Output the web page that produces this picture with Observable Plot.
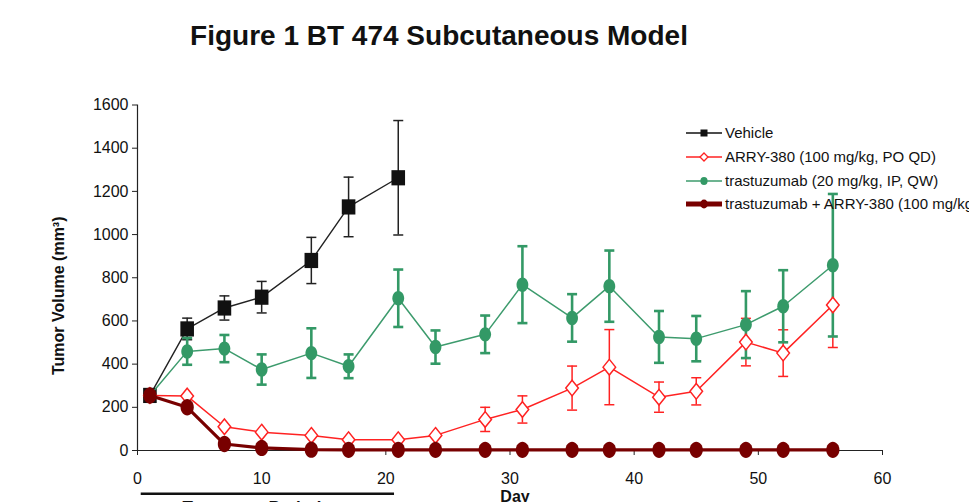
<!DOCTYPE html>
<html>
<head>
<meta charset="utf-8">
<script src="https://cdn.jsdelivr.net/npm/d3@7"></script>
<script src="https://cdn.jsdelivr.net/npm/@observablehq/plot@0.6"></script>
<style>
  html, body { margin: 0; padding: 0; background: #fff; }
  #wrap { position: relative; width: 969px; height: 502px; overflow: hidden; font-family: "Liberation Sans", Arial, sans-serif; color: #111; }
  #title { position: absolute; left: 0; top: 22px; width: 878px; text-align: center; font-weight: bold; font-size: 28px; line-height: 28px; white-space: nowrap; }
  #chart { position: absolute; left: 0; top: 80px; }
  .leg { position: absolute; left: 686px; height: 16px; white-space: nowrap; font-size: 15px; line-height: 16px; }
  .leg svg { position: absolute; left: 0; top: 0; }
  .leg span { position: absolute; left: 39px; top: 0; }
</style>
</head>
<body>
<div id="wrap">
  <div id="title">Figure 1 BT 474 Subcutaneous Model</div>
  <div id="chart"></div>
  <div id="legend"></div>
</div>
<script>
// ---- data ----
const days = [1, 4, 7, 10, 14, 17, 21, 24, 28, 31, 35, 38, 42, 45, 49, 52, 56];
const vehicleDays = [1, 4, 7, 10, 14, 17, 21];
const vehicle = [255, 563, 660, 710, 880, 1128, 1263];
const vehicleErr = [15, 50, 56, 73, 107, 138, 265];
const arry = [255, 252, 110, 85, 70, 50, 50, 70, 144, 190, 289, 386, 247, 274, 502, 451, 674];
const arryErr = [0, 0, 0, 0, 0, 0, 0, 0, 56, 63, 102, 174, 70, 63, 110, 108, 197];
const trast = [255, 459, 472, 375, 451, 390, 705, 479, 538, 768, 614, 761, 526, 518, 583, 668, 858];
const trastErr = [15, 62, 63, 70, 115, 55, 133, 77, 87, 178, 110, 165, 120, 105, 155, 167, 330];
const combo = [255, 200, 30, 12, 4, 3, 3, 3, 3, 3, 3, 3, 3, 3, 3, 3, 3];
const yTicks = [0, 200, 400, 600, 800, 1000, 1200, 1400, 1600];
const xTicks = [0, 10, 20, 30, 40, 50, 60];
const treatmentPeriod = [0.3, 20.7];
const seriesNames = ["Vehicle", "ARRY-380 (100 mg/kg, PO QD)", "trastuzumab (20 mg/kg, IP, QW)", "trastuzumab + ARRY-380 (100 mg/kg, PO QD)"];
const colors = { vehicle: "#111111", arry: "#ff2222", trast: "#339966", combo: "#780000" };

// ---- tables ----
const mk = (ds, vs, es) => ds.map((d, i) => ({ day: d, v: vs[i], e: es ? es[i] : 0 }));
const tVeh = mk(vehicleDays, vehicle, vehicleErr);
const tArry = mk(days, arry, arryErr);
const tTrast = mk(days, trast, trastErr);
const tCombo = mk(days, combo, null);
const caps = t => t.filter(d => d.e > 0).flatMap(d => [{ day: d.day, y: d.v + d.e }, { day: d.day, y: d.v - d.e }]);

// ---- custom symbols ----
const ellipse = (rx, ry) => ({ draw(ctx) {
  const k = 0.5523;
  ctx.moveTo(rx, 0);
  ctx.bezierCurveTo(rx, ry * k, rx * k, ry, 0, ry);
  ctx.bezierCurveTo(-rx * k, ry, -rx, ry * k, -rx, 0);
  ctx.bezierCurveTo(-rx, -ry * k, -rx * k, -ry, 0, -ry);
  ctx.bezierCurveTo(rx * k, -ry, rx, -ry * k, rx, 0);
  ctx.closePath();
}});
const diamond = (rx, ry) => ({ draw(ctx) {
  ctx.moveTo(0, -ry); ctx.lineTo(rx, 0); ctx.lineTo(0, ry); ctx.lineTo(-rx, 0); ctx.closePath();
}});
const rect = (hw, hh) => ({ draw(ctx) {
  ctx.moveTo(-hw, -hh); ctx.lineTo(hw, -hh); ctx.lineTo(hw, hh); ctx.lineTo(-hw, hh); ctx.closePath();
}});
const cap = hw => ({ draw(ctx) { ctx.moveTo(-hw, 0); ctx.lineTo(hw, 0); } });

const errMarks = (t, color, w) => [
  Plot.ruleX(t.filter(d => d.e > 0), { x: "day", y1: d => d.v - d.e, y2: d => d.v + d.e, stroke: color, strokeWidth: w }),
  Plot.dot(caps(t), { x: "day", y: "y", symbol: cap(5), r: 5, fill: "none", stroke: color, strokeWidth: w })
];

const plot = Plot.plot({
  width: 969,
  height: 440,
  marginLeft: 137,
  marginRight: 87,
  marginTop: 24.5,
  marginBottom: 70,
  x: { domain: [0, 60] },
  y: { domain: [0, 1600] },
  style: { fontFamily: "Liberation Sans, Arial, sans-serif", fontSize: "16px", color: "#111", background: "transparent", overflow: "visible" },
  marks: [
    Plot.axisY({ ticks: yTicks, tickFormat: d => String(d), tickSize: 5, tickPadding: 4, label: null, fontSize: 16, stroke: "#222" }),
    Plot.axisX({ ticks: xTicks, tickFormat: d => String(d), tickSize: 5, tickPadding: 17, label: null, fontSize: 16, stroke: "#222" }),
    Plot.ruleX([0], { stroke: "#222", strokeWidth: 1.2 }),
    Plot.ruleY([0], { stroke: "#222", strokeWidth: 1.2 }),
    // vehicle
    Plot.line(tVeh, { x: "day", y: "v", stroke: "#222", strokeWidth: 1.4 }),
    ...errMarks(tVeh, "#222", 1.5),
    Plot.dot(tVeh, { x: "day", y: "v", symbol: rect(6.8, 7.6), r: 7, fill: colors.vehicle, stroke: "none" }),
    // ARRY-380 line and error bars (under trastuzumab)
    Plot.line(tArry, { x: "day", y: "v", stroke: colors.arry, strokeWidth: 1.5 }),
    ...errMarks(tArry, colors.arry, 1.5),
    // trastuzumab
    Plot.line(tTrast, { x: "day", y: "v", stroke: "#3d9b6d", strokeWidth: 1.5 }),
    ...errMarks(tTrast, colors.trast, 2.6),
    Plot.dot(tTrast, { x: "day", y: "v", symbol: ellipse(5.9, 7.2), r: 6, fill: colors.trast, stroke: "none" }),
    // ARRY-380 markers
    Plot.dot(tArry, { x: "day", y: "v", symbol: diamond(6.3, 7.8), r: 6, fill: "white", stroke: colors.arry, strokeWidth: 1.5 }),
    // combination
    Plot.line(tCombo, { x: "day", y: "v", stroke: colors.combo, strokeWidth: 3.2 }),
    Plot.dot(tCombo, { x: "day", y: "v", symbol: ellipse(6.6, 8.2), r: 7, fill: colors.combo, stroke: "none" }),
    // treatment period bar
    Plot.ruleY([0], { x1: treatmentPeriod[0], x2: treatmentPeriod[1], dy: 43.3, stroke: "#111", strokeWidth: 2.6 }),
    Plot.text(["Treatment Period"], { frameAnchor: "bottom-left", dx: 45, dy: 50, lineAnchor: "top", textAnchor: "start", fontSize: 17, fontWeight: "bold", fill: "#111" }),
    Plot.text(["Day"], { frameAnchor: "bottom", dx: 5, dy: 40, lineAnchor: "top", textAnchor: "middle", fontSize: 16, fontWeight: "bold", fill: "#111" }),
    Plot.text(["Tumor Volume (mm³)"], { frameAnchor: "left", dx: -79, dy: 18, rotate: -90, textAnchor: "middle", lineAnchor: "middle", fontSize: 16, fontWeight: "bold", fill: "#111" })
  ]
});
document.getElementById("chart").appendChild(plot);

// ---- legend ----
const legRows = [133.3, 157.3, 180.7, 204];
const legSvg = [
  `<line x1="0" y1="8" x2="36" y2="8" stroke="#111" stroke-width="1.6"/><rect x="14.5" y="4.5" width="7" height="7" fill="#111"/>`,
  `<line x1="0" y1="8" x2="36" y2="8" stroke="${colors.arry}" stroke-width="1.4"/><path d="M18,4 L22,8 L18,12 L14,8 Z" fill="white" stroke="${colors.arry}" stroke-width="1.3"/>`,
  `<line x1="0" y1="8" x2="36" y2="8" stroke="#3d9b6d" stroke-width="1.6"/><ellipse cx="18" cy="8" rx="3.6" ry="4" fill="${colors.trast}"/>`,
  `<line x1="0" y1="8" x2="36" y2="8" stroke="${colors.combo}" stroke-width="5"/><ellipse cx="18" cy="8" rx="4" ry="4.4" fill="${colors.combo}"/>`
];
const legend = document.getElementById("legend");
seriesNames.forEach((name, i) => {
  const row = document.createElement("div");
  row.className = "leg";
  row.style.top = (legRows[i] - 8) + "px";
  row.innerHTML = `<svg width="38" height="16">${legSvg[i]}</svg><span>${name}</span>`;
  legend.appendChild(row);
});
</script>
</body>
</html>
